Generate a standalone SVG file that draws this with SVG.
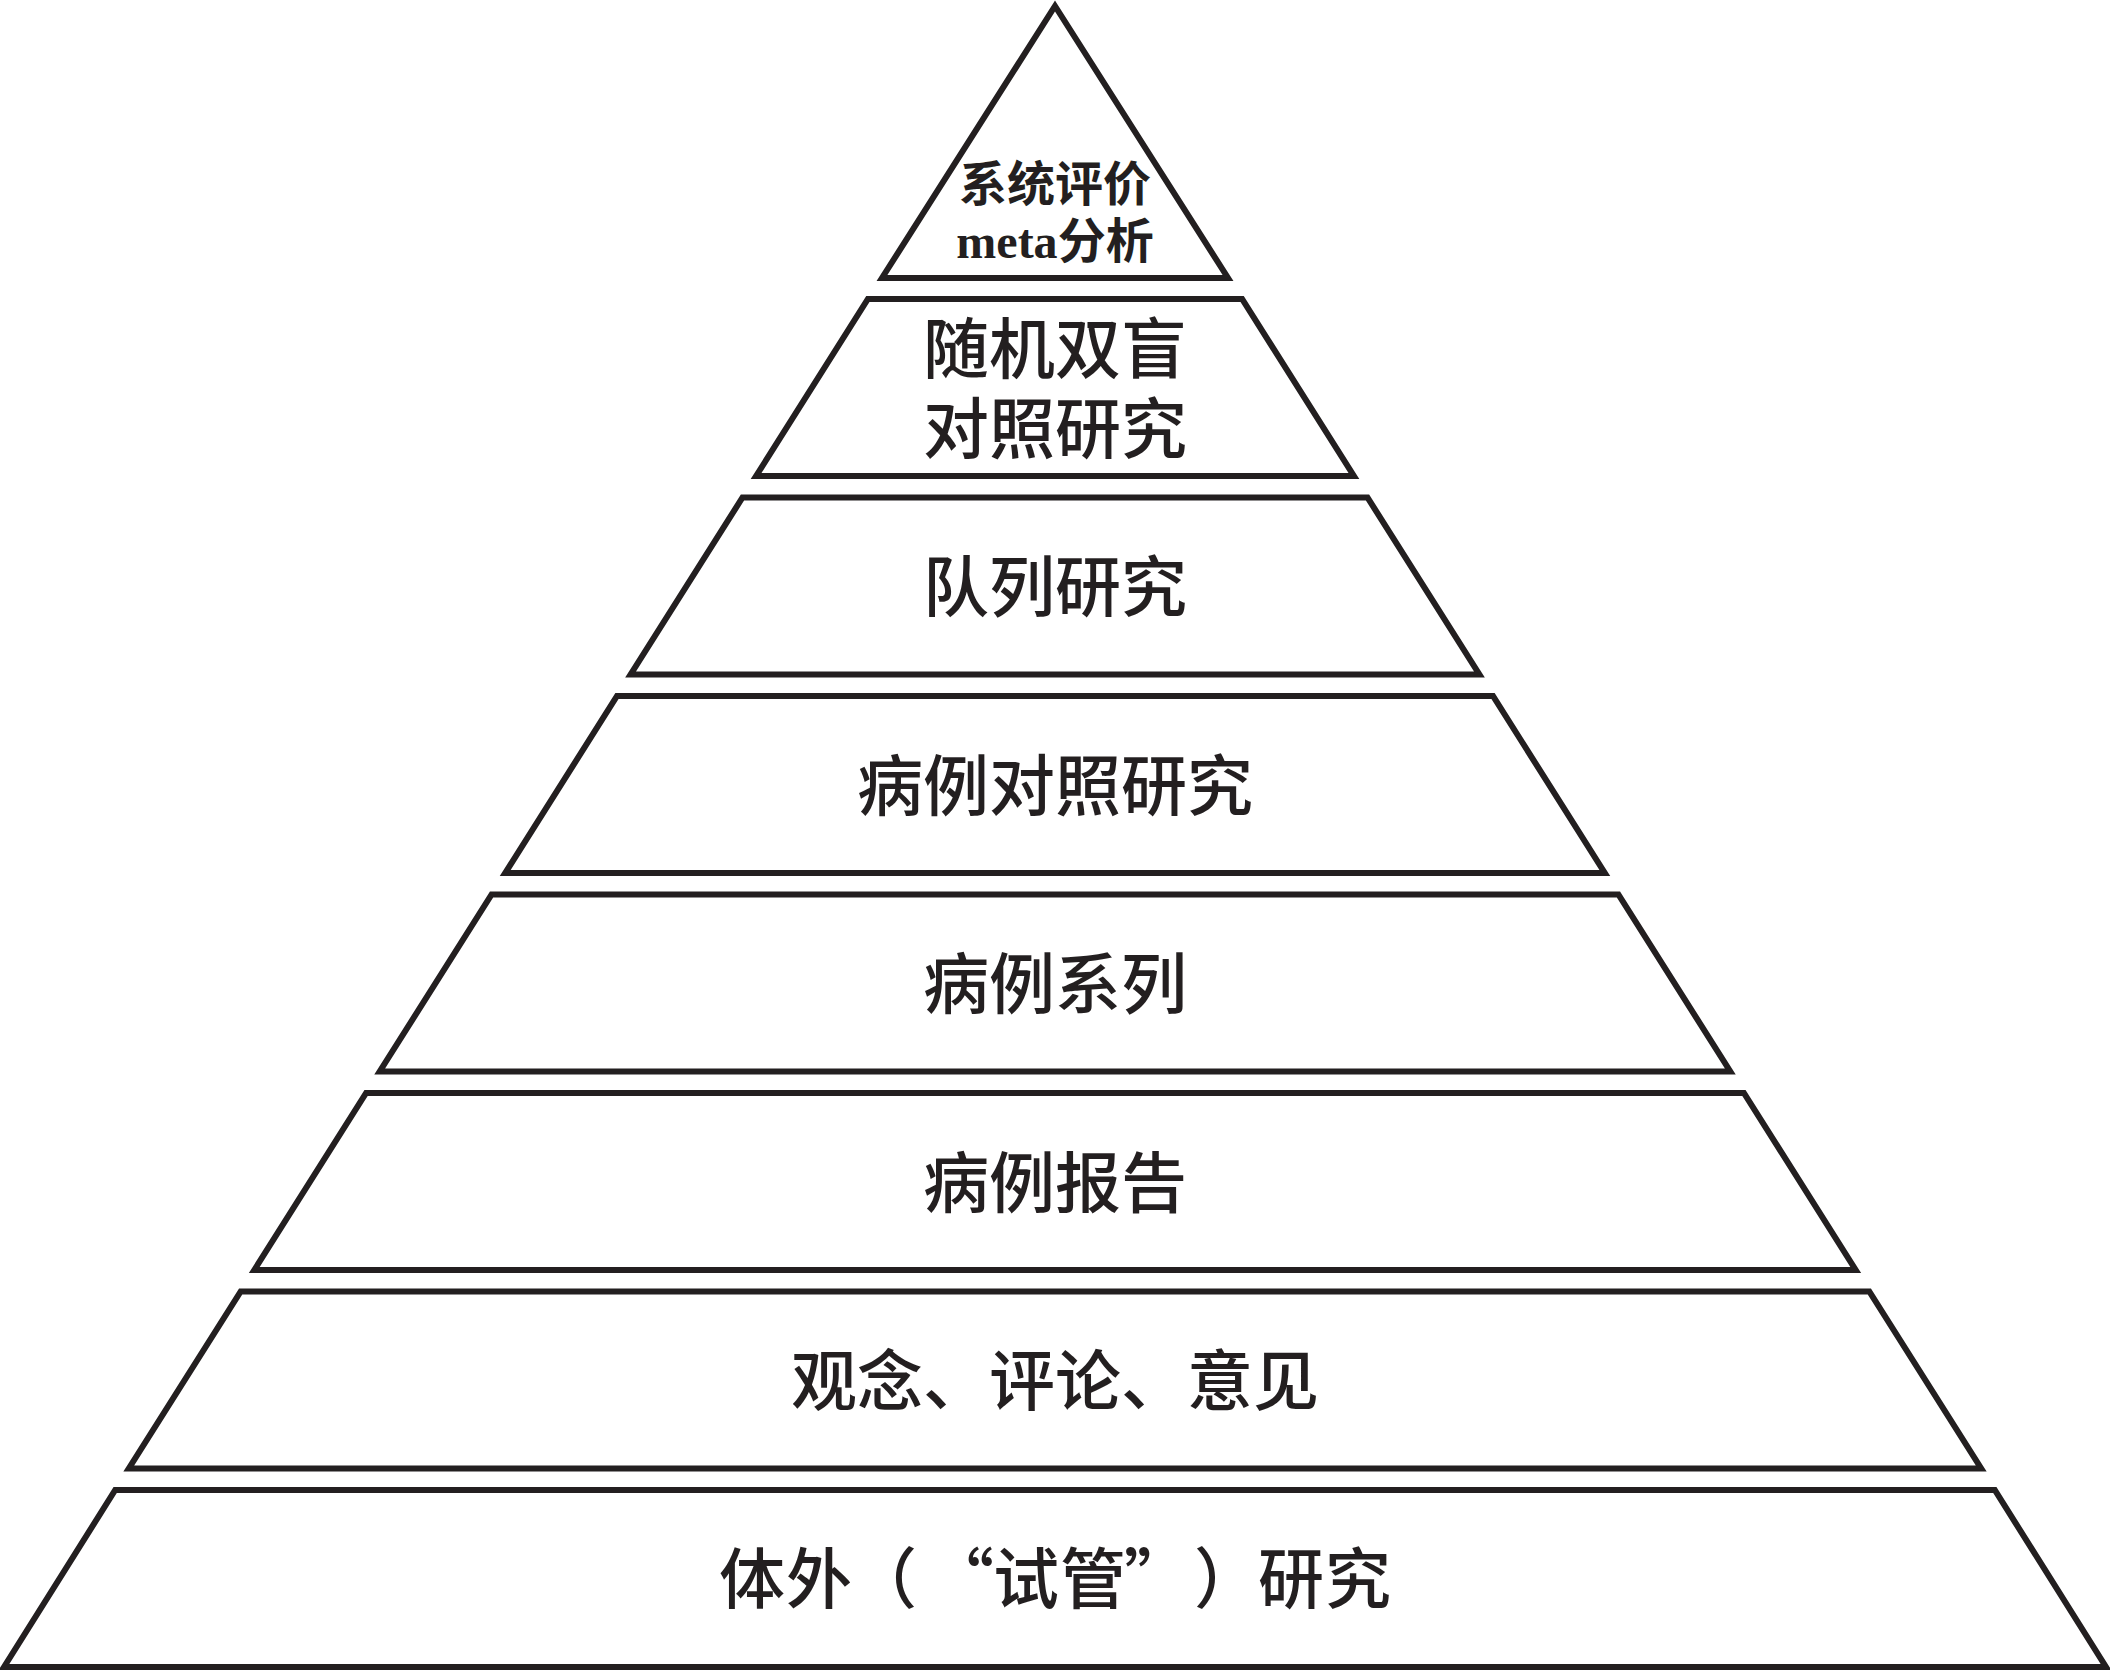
<svg xmlns="http://www.w3.org/2000/svg" width="2110" height="1671" viewBox="0 0 2110 1671">
<style>
.tier{fill:#ffffff;stroke:#231f20;stroke-width:6;stroke-linejoin:miter;stroke-miterlimit:10}
.lbl{font-family:"Noto Sans CJK SC","Noto Sans CJK JP",sans-serif;font-size:66px;font-weight:500;fill:#231f20;text-anchor:middle}
.two{font-family:"Liberation Sans","Noto Sans CJK SC","Noto Sans CJK JP",sans-serif}
.top{font-family:"Liberation Sans","Noto Sans CJK SC","Noto Sans CJK JP",sans-serif;font-size:48px;font-weight:700;fill:#231f20;text-anchor:middle}
.lat{font-family:"Liberation Serif",serif;font-weight:700}
</style>
<rect x="0" y="0" width="2110" height="1671" fill="#ffffff"/>
<g id="connectors"></g>
<g id="tier1">
<polygon class="tier" points="1055,6 1228,278 882,278"/>
<text class="top"><tspan x="1055" y="201">系统评价</tspan><tspan x="1055" y="258"><tspan class="lat">meta</tspan>分析</tspan></text>
</g>
<g id="tier2">
<polygon class="tier" points="867.9,299 1242.1,299 1353.9,476 756.1,476"/>
<text class="lbl two"><tspan x="1055" y="373">随机双盲</tspan><tspan x="1055" y="453">对照研究</tspan></text>
</g>
<g id="tier3">
<polygon class="tier" points="742.5,497.5 1367.5,497.5 1479.4,674.5 630.6,674.5"/>
<text class="lbl" x="1055" y="611">队列研究</text>
</g>
<g id="tier4">
<polygon class="tier" points="617,696 1493,696 1604.8,873 505.2,873"/>
<text class="lbl" x="1055" y="810">病例对照研究</text>
</g>
<g id="tier5">
<polygon class="tier" points="491.6,894.5 1618.4,894.5 1730.3,1071.5 379.7,1071.5"/>
<text class="lbl" x="1055" y="1008">病例系列</text>
</g>
<g id="tier6">
<polygon class="tier" points="366.1,1093 1743.9,1093 1855.7,1270 254.3,1270"/>
<text class="lbl" x="1055" y="1207">病例报告</text>
</g>
<g id="tier7">
<polygon class="tier" points="240.7,1291.5 1869.3,1291.5 1981.2,1468.5 128.8,1468.5"/>
<text class="lbl" x="1055" y="1405">观念、评论、意见</text>
</g>
<g id="tier8">
<polygon class="tier" points="115.2,1490 1994.8,1490 2106,1667 4,1667"/>
<text class="lbl" style="text-anchor:start" x="719 786 851 928 993 1060 1124 1194 1258 1325" y="1603">体外（“试管”）研究</text>
</g>
</svg>
